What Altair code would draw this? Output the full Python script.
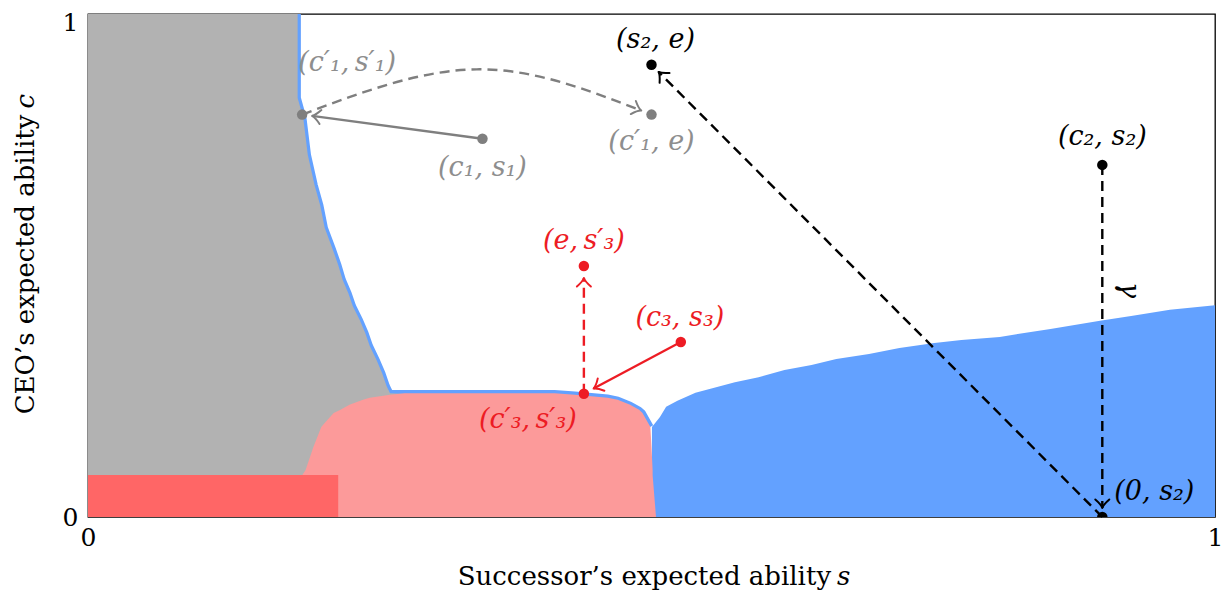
import math
import altair as alt
import pandas as pd

# ---------------- data (s = successor's expected ability, c = CEO's expected ability) -------------
# gray region: right boundary s for each c (upper, visible part)
gray_c = [1.000, 0.833, 0.793, 0.720, 0.660, 0.620, 0.575, 0.533, 0.501, 0.471,
          0.445, 0.419, 0.392, 0.366, 0.340, 0.312, 0.286, 0.260, 0.246]
gray_s = [0.186, 0.186, 0.191, 0.195, 0.201, 0.206, 0.210, 0.217, 0.222, 0.226,
          0.231, 0.235, 0.241, 0.246, 0.250, 0.256, 0.261, 0.265, 0.268]
# lower part of the gray region (runs under the pink region)
gray_hidden_c = [0.243, 0.083]
gray_hidden_s = [0.300, 0.300]

# pink region: left and right edge for each c
pink_c = [0.000, 0.083, 0.093, 0.139, 0.179, 0.187, 0.207, 0.213, 0.223, 0.233, 0.237, 0.243, 0.246]
pink_left = [0.190, 0.190, 0.193, 0.200, 0.207, 0.210, 0.218, 0.224, 0.232, 0.244, 0.250, 0.268, 0.281]
pink_right = [0.504, 0.501, 0.501, 0.500, 0.499, 0.497, 0.492, 0.489, 0.481, 0.470, 0.461, 0.432, 0.414]

# red block (bottom left)
red_s = [0.000, 0.222]
red_c = [0.000, 0.0835]

# blue region: upper boundary c for each s
blue_s = [0.5004, 0.5075, 0.513, 0.523, 0.539, 0.554, 0.574, 0.595, 0.618, 0.642, 0.664,
          0.693, 0.720, 0.751, 0.775, 0.809, 0.854, 0.898, 0.927, 0.960, 1.000]
blue_c = [0.179, 0.199, 0.219, 0.231, 0.247, 0.256, 0.268, 0.278, 0.292, 0.302, 0.314,
          0.324, 0.336, 0.346, 0.352, 0.358, 0.374, 0.390, 0.400, 0.412, 0.421]

# annotated points
point_names = ["c1p_s1p", "c1_s1", "c1p_e", "s2_e", "c2_s2", "zero_s2", "e_s3p", "c3p_s3p", "c3_s3"]
point_s = [0.190, 0.350, 0.500, 0.500, 0.900, 0.900, 0.440, 0.440, 0.526]
point_c = [0.800, 0.752, 0.800, 0.899, 0.700, 0.000, 0.499, 0.245, 0.348]
point_group = ["gray", "gray", "gray", "black", "black", "black", "red", "red", "red"]
point_text = ["(c′₁,\u2009s′₁)", "(c₁, s₁)", "(c′₁, e)", "(s₂, e)", "(c₂, s₂)", "(0, s₂)",
              "(e,\u2009s′₃)", "(c′₃,\u2009s′₃)", "(c₃, s₃)"]

# arrows: from, to, style
arrows = [("c1_s1", "c1p_s1p", "solid"),
          ("zero_s2", "s2_e", "dashed"),
          ("c2_s2", "zero_s2", "dashed"),
          ("c3_s3", "c3p_s3p", "solid"),
          ("c3p_s3p", "e_s3p", "dashed")]
# curved dashed arrow from (c1', s1') over its apex to (c1', e)
arc_from, arc_to = "c1p_s1p", "c1p_e"
arc_apex = (0.345, 0.890)
gamma_c = 0.451

# ---------------- styling / layout ----------------
W, H = 1127, 503
FONT = "DejaVu Serif"
BLUE = "#63a1ff"
GRAY_REGION = "#b2b2b2"
PINK = "#fc9a9a"
RED_BLOCK = "#ff6666"
line_col = {"gray": "#7f7f7f", "black": "#000000", "red": "#ed1c24"}
text_col = {"gray": "#8e8e8e", "black": "#000000", "red": "#ed1c24"}
label_offset = {"c1p_s1p": (45, -52), "c1_s1": (0, 29), "c1p_e": (0, 27), "s2_e": (4, -25),
                "c2_s2": (0, -28), "zero_s2": (52, -25), "e_s3p": (0, -25),
                "c3_s3": (-1, -24), "c3p_s3p": (-56, 26)}
arrow_gap = {"c1p_s1p": 10, "s2_e": 10, "zero_s2": 9, "c3p_s3p": 11, "e_s3p": 12, "c1p_e": 11}
ARROW = "M -0.85 -0.7 Q -0.35 -0.12 0 0 Q -0.35 0.12 -0.85 0.7"
LABEL_SIZE = 27
TITLE_SIZE = 26

P = {n: (s, c) for n, s, c in zip(point_names, point_s, point_c)}
G = dict(zip(point_names, point_group))


def to_px(p):
    return p[0] * W, (1 - p[1]) * H


def to_data(x, y):
    return x / W, 1 - y / H


def tip_and_angle(target, dx, dy, gap):
    L = math.hypot(dx, dy)
    ux, uy = dx / L, dy / L
    tx, ty = to_px(target)
    tip = to_data(tx - gap * ux, ty - gap * uy)
    return tip, math.degrees(math.atan2(uy, ux)) % 360


line_rows, head_rows = [], []
for k, (a, b, style) in enumerate(arrows):
    ax, ay = to_px(P[a])
    bx, by = to_px(P[b])
    tip, ang = tip_and_angle(P[b], bx - ax, by - ay, arrow_gap[b])
    col = line_col[G[b]]
    for o, p in enumerate([P[a], tip]):
        line_rows.append({"seg": f"a{k}", "ord": o, "s": p[0], "c": p[1], "col": col, "style": style})
    head_rows.append({"s": tip[0], "c": tip[1], "ang": ang, "col": col})

# arc tangent at its end (natural spline through three points)
p0, p1, p2 = to_px(P[arc_from]), to_px(arc_apex), to_px(P[arc_to])
tdx = (p2[0] - p1[0]) + ((p2[0] - p1[0]) - (p1[0] - p0[0])) / 4
tdy = (p2[1] - p1[1]) + ((p2[1] - p1[1]) - (p1[1] - p0[1])) / 4
arc_tip, arc_ang = tip_and_angle(P[arc_to], tdx, tdy, arrow_gap[arc_to])
arc_df = pd.DataFrame({"s": [P[arc_from][0], arc_apex[0], arc_tip[0]],
                       "c": [P[arc_from][1], arc_apex[1], arc_tip[1]], "ord": [0, 1, 2]})
head_rows.append({"s": arc_tip[0], "c": arc_tip[1], "ang": arc_ang, "col": line_col["gray"]})

lines_df = pd.DataFrame(line_rows)
heads_df = pd.DataFrame(head_rows)

outline = list(zip(gray_s, gray_c)) + [(pink_left[-1], pink_c[-1])] + \
    [(pink_right[i], pink_c[i]) for i in range(len(pink_c) - 1, -1, -1) if pink_c[i] >= 0.179]
outline_df = pd.DataFrame({"s": [p[0] for p in outline], "c": [p[1] for p in outline],
                           "ord": list(range(len(outline)))})
gray_df = pd.DataFrame({"c": gray_c + gray_hidden_c, "s": gray_s + gray_hidden_s})
pink_df = pd.DataFrame({"c": pink_c, "left": pink_left, "right": pink_right})
red_df = pd.DataFrame({"s0": [red_s[0]], "s1": [red_s[1]], "c0": [red_c[0]], "c1": [red_c[1]]})
blue_df = pd.DataFrame({"s": blue_s, "c": blue_c})
pts_df = pd.DataFrame({"name": point_names, "s": point_s, "c": point_c,
                       "col": [line_col[g] for g in point_group]})

xs = alt.Scale(domain=[0, 1], nice=False, zero=False)
ys = alt.Scale(domain=[0, 1], nice=False, zero=False)
x_axis = alt.Axis(values=[0, 1], format="d", ticks=False, grid=False, domain=False,
                  labelFont=FONT, labelFontSize=25, labelColor="black", labelPadding=8,
                  labelFlush=False, title=None)
y_axis = alt.Axis(values=[0, 1], format="d", ticks=False, grid=False, domain=False,
                  labelFont=FONT, labelFontSize=25, labelColor="black", labelPadding=10,
                  labelFlush=False, title=None,
                  labelOffset={"condition": {"test": "datum.value === 1", "value": 8}, "value": 0})

X = lambda f: alt.X(f, scale=xs, axis=x_axis)
Y = lambda f: alt.Y(f, scale=ys, axis=y_axis)

layers = []
layers.append(alt.Chart(blue_df).mark_area(color=BLUE, clip=True).encode(
    x=X("s:Q"), y=Y("c:Q"), y2=alt.datum(0)))
layers.append(alt.Chart(outline_df).mark_line(color=BLUE, strokeWidth=6.5, clip=True).encode(
    x=X("s:Q"), y=Y("c:Q"), order="ord:Q"))
layers.append(alt.Chart(gray_df).mark_area(color=GRAY_REGION, orient="horizontal", clip=True).encode(
    y=Y("c:Q"), x=X("s:Q"), x2=alt.datum(0)))
layers.append(alt.Chart(pink_df).mark_area(color=PINK, orient="horizontal", clip=True).encode(
    y=Y("c:Q"), x=X("left:Q"), x2="right:Q"))
layers.append(alt.Chart(red_df).mark_rect(color=RED_BLOCK).encode(
    x=X("s0:Q"), x2="s1:Q", y=Y("c0:Q"), y2="c1:Q"))

solid_df = lines_df[lines_df["style"] == "solid"]
dash_df = lines_df[lines_df["style"] == "dashed"]
layers.append(alt.Chart(solid_df).mark_line(strokeWidth=2.3).encode(
    x=X("s:Q"), y=Y("c:Q"), detail="seg:N", order="ord:Q", color=alt.Color("col:N", scale=None)))
layers.append(alt.Chart(dash_df).mark_line(strokeWidth=2.4, strokeDash=[10, 6]).encode(
    x=X("s:Q"), y=Y("c:Q"), detail="seg:N", order="ord:Q", color=alt.Color("col:N", scale=None)))
layers.append(alt.Chart(arc_df).mark_line(strokeWidth=2.4, strokeDash=[10, 6], interpolate="natural",
                                          color=line_col["gray"]).encode(
    x=X("s:Q"), y=Y("c:Q"), order="ord:Q"))
layers.append(alt.Chart(heads_df).mark_point(shape=ARROW, size=400, filled=False, strokeWidth=2,
                                             opacity=1, strokeCap="round", strokeJoin="round").encode(
    x=X("s:Q"), y=Y("c:Q"), angle=alt.Angle("ang:Q", scale=None), color=alt.Color("col:N", scale=None)))
layers.append(alt.Chart(pts_df).mark_circle(size=110, opacity=1, clip=True).encode(
    x=X("s:Q"), y=Y("c:Q"), color=alt.Color("col:N", scale=None)))

one = pd.DataFrame({"a": [0]})
for n, t in zip(point_names, point_text):
    dx, dy = label_offset[n]
    layers.append(alt.Chart(one).mark_text(text=t, font=FONT, fontSize=LABEL_SIZE, fontStyle="italic",
                                           color=text_col[G[n]], dx=dx, dy=dy, align="center",
                                           baseline="middle").encode(
        x=alt.datum(P[n][0]), y=alt.datum(P[n][1])))
layers.append(alt.Chart(one).mark_text(text="γ", font=FONT, fontSize=LABEL_SIZE, fontStyle="italic",
                                       angle=90, dy=-27, align="center", baseline="middle").encode(
    x=alt.datum(P["c2_s2"][0]), y=alt.datum(gamma_c)))

# axis titles (plain words + italic variable)
layers.append(alt.Chart(one).mark_text(text="Successor’s expected ability", font=FONT, fontSize=TITLE_SIZE,
                                       align="right", baseline="middle", dx=-3).encode(
    x=alt.datum(0.662), y=alt.value(563)))
layers.append(alt.Chart(one).mark_text(text="s", font=FONT, fontSize=TITLE_SIZE, fontStyle="italic",
                                       align="left", baseline="middle", dx=3).encode(
    x=alt.datum(0.662), y=alt.value(563)))
layers.append(alt.Chart(one).mark_text(text="CEO’s expected ability", font=FONT, fontSize=TITLE_SIZE,
                                       angle=270, align="right", baseline="middle", dx=-3).encode(
    x=alt.value(-62), y=alt.datum(0.806)))
layers.append(alt.Chart(one).mark_text(text="c", font=FONT, fontSize=TITLE_SIZE, fontStyle="italic",
                                       angle=270, align="left", baseline="middle", dx=3).encode(
    x=alt.value(-62), y=alt.datum(0.806)))

chart = alt.layer(*layers).properties(
    width=W, height=H,
    autosize=alt.AutoSizeParams(type="none"),
    padding={"left": 80, "top": 6, "right": 7, "bottom": 80},
    background="white",
).configure_view(stroke="black", strokeWidth=1.3)

chart.save("out.html", embed_options={"renderer": "svg", "actions": False})
